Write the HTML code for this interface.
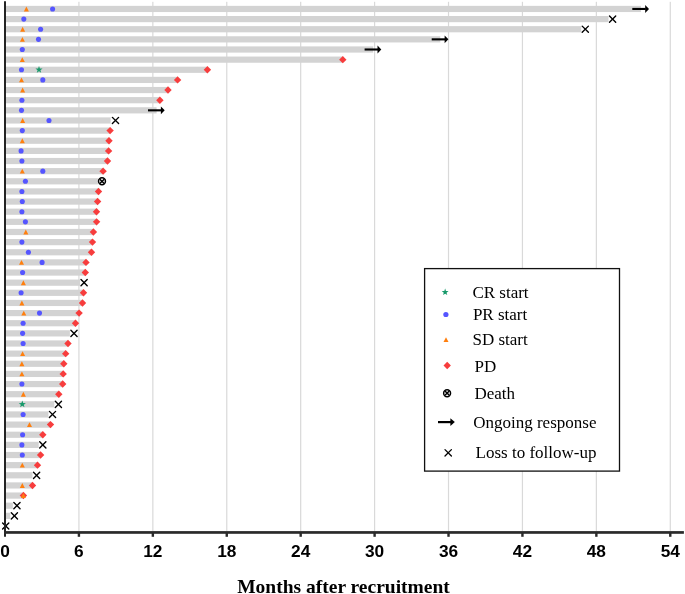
<!DOCTYPE html>
<html><head><meta charset="utf-8"><style>
html,body{margin:0;padding:0;background:#fff;}
body{width:685px;height:594px;overflow:hidden;position:relative;}
svg{position:absolute;left:0;top:0;display:block;will-change:transform;}
.tk text{font-family:"Liberation Sans",sans-serif;font-weight:bold;font-size:17.3px;fill:#000;}
.lg text{font-family:"Liberation Serif",serif;font-size:17px;fill:#000;}
.tt{font-family:"Liberation Serif",serif;font-weight:bold;font-size:19.5px;fill:#000;}
</style></head><body>
<svg width="685" height="594" viewBox="0 0 685 594">
<rect width="685" height="594" fill="#fff"/>
<g><rect x="78.32" y="1.8" width="1.2" height="529.2" fill="#d9d9d9"/><rect x="152.24" y="1.8" width="1.2" height="529.2" fill="#d9d9d9"/><rect x="226.16" y="1.8" width="1.2" height="529.2" fill="#d9d9d9"/><rect x="300.08" y="1.8" width="1.2" height="529.2" fill="#d9d9d9"/><rect x="374" y="1.8" width="1.2" height="529.2" fill="#d9d9d9"/><rect x="447.92" y="1.8" width="1.2" height="529.2" fill="#d9d9d9"/><rect x="521.84" y="1.8" width="1.2" height="529.2" fill="#d9d9d9"/><rect x="595.76" y="1.8" width="1.2" height="529.2" fill="#d9d9d9"/><rect x="669.68" y="1.8" width="1.2" height="529.2" fill="#d9d9d9"/></g>
<g><rect x="5" y="5.85" width="635.9" height="6.2" fill="#d3d3d3"/><rect x="5" y="15.99" width="603.5" height="6.2" fill="#d3d3d3"/><rect x="5" y="26.13" width="576.2" height="6.2" fill="#d3d3d3"/><rect x="5" y="36.26" width="435.3" height="6.2" fill="#d3d3d3"/><rect x="5" y="46.4" width="368.2" height="6.2" fill="#d3d3d3"/><rect x="5" y="56.54" width="337.8" height="6.2" fill="#d3d3d3"/><rect x="5" y="66.68" width="202.4" height="6.2" fill="#d3d3d3"/><rect x="5" y="76.82" width="172.6" height="6.2" fill="#d3d3d3"/><rect x="5" y="86.95" width="163" height="6.2" fill="#d3d3d3"/><rect x="5" y="97.09" width="154.9" height="6.2" fill="#d3d3d3"/><rect x="5" y="107.23" width="151.6" height="6.2" fill="#d3d3d3"/><rect x="5" y="117.37" width="105.6" height="6.2" fill="#d3d3d3"/><rect x="5" y="127.51" width="105.1" height="6.2" fill="#d3d3d3"/><rect x="5" y="137.64" width="104" height="6.2" fill="#d3d3d3"/><rect x="5" y="147.78" width="103.6" height="6.2" fill="#d3d3d3"/><rect x="5" y="157.92" width="102.5" height="6.2" fill="#d3d3d3"/><rect x="5" y="168.06" width="98.1" height="6.2" fill="#d3d3d3"/><rect x="5" y="178.2" width="92.9" height="6.2" fill="#d3d3d3"/><rect x="5" y="188.33" width="93.5" height="6.2" fill="#d3d3d3"/><rect x="5" y="198.47" width="92.6" height="6.2" fill="#d3d3d3"/><rect x="5" y="208.61" width="91.5" height="6.2" fill="#d3d3d3"/><rect x="5" y="218.75" width="91.6" height="6.2" fill="#d3d3d3"/><rect x="5" y="228.89" width="88.4" height="6.2" fill="#d3d3d3"/><rect x="5" y="239.02" width="87.5" height="6.2" fill="#d3d3d3"/><rect x="5" y="249.16" width="86.5" height="6.2" fill="#d3d3d3"/><rect x="5" y="259.3" width="81" height="6.2" fill="#d3d3d3"/><rect x="5" y="269.44" width="80.3" height="6.2" fill="#d3d3d3"/><rect x="5" y="279.58" width="75" height="6.2" fill="#d3d3d3"/><rect x="5" y="289.71" width="78.5" height="6.2" fill="#d3d3d3"/><rect x="5" y="299.85" width="77.5" height="6.2" fill="#d3d3d3"/><rect x="5" y="309.99" width="74.1" height="6.2" fill="#d3d3d3"/><rect x="5" y="320.13" width="70.5" height="6.2" fill="#d3d3d3"/><rect x="5" y="330.27" width="64.9" height="6.2" fill="#d3d3d3"/><rect x="5" y="340.4" width="63" height="6.2" fill="#d3d3d3"/><rect x="5" y="350.54" width="60.7" height="6.2" fill="#d3d3d3"/><rect x="5" y="360.68" width="58.8" height="6.2" fill="#d3d3d3"/><rect x="5" y="370.82" width="58.2" height="6.2" fill="#d3d3d3"/><rect x="5" y="380.96" width="57.7" height="6.2" fill="#d3d3d3"/><rect x="5" y="391.09" width="53.8" height="6.2" fill="#d3d3d3"/><rect x="5" y="401.23" width="49.3" height="6.2" fill="#d3d3d3"/><rect x="5" y="411.37" width="43.4" height="6.2" fill="#d3d3d3"/><rect x="5" y="421.51" width="45.5" height="6.2" fill="#d3d3d3"/><rect x="5" y="431.65" width="37.8" height="6.2" fill="#d3d3d3"/><rect x="5" y="441.78" width="33.7" height="6.2" fill="#d3d3d3"/><rect x="5" y="451.92" width="35.6" height="6.2" fill="#d3d3d3"/><rect x="5" y="462.06" width="32.5" height="6.2" fill="#d3d3d3"/><rect x="5" y="472.2" width="27.5" height="6.2" fill="#d3d3d3"/><rect x="5" y="482.34" width="27.5" height="6.2" fill="#d3d3d3"/><rect x="5" y="492.47" width="18.4" height="6.2" fill="#d3d3d3"/><rect x="5" y="502.61" width="7.85" height="6.2" fill="#d3d3d3"/><rect x="5" y="512.75" width="5.3" height="6.2" fill="#d3d3d3"/></g>
<g><polygon points="342.8,55.94 346.5,59.64 342.8,63.34 339.1,59.64" fill="#f73d3d"/><polygon points="207.4,66.08 211.1,69.78 207.4,73.48 203.7,69.78" fill="#f73d3d"/><polygon points="177.6,76.22 181.3,79.92 177.6,83.62 173.9,79.92" fill="#f73d3d"/><polygon points="168,86.35 171.7,90.05 168,93.75 164.3,90.05" fill="#f73d3d"/><polygon points="159.9,96.49 163.6,100.19 159.9,103.89 156.2,100.19" fill="#f73d3d"/><polygon points="110.1,126.91 113.8,130.61 110.1,134.31 106.4,130.61" fill="#f73d3d"/><polygon points="109,137.04 112.7,140.74 109,144.44 105.3,140.74" fill="#f73d3d"/><polygon points="108.6,147.18 112.3,150.88 108.6,154.58 104.9,150.88" fill="#f73d3d"/><polygon points="107.5,157.32 111.2,161.02 107.5,164.72 103.8,161.02" fill="#f73d3d"/><polygon points="103.1,167.46 106.8,171.16 103.1,174.86 99.4,171.16" fill="#f73d3d"/><polygon points="98.5,187.73 102.2,191.43 98.5,195.13 94.8,191.43" fill="#f73d3d"/><polygon points="97.6,197.87 101.3,201.57 97.6,205.27 93.9,201.57" fill="#f73d3d"/><polygon points="96.5,208.01 100.2,211.71 96.5,215.41 92.8,211.71" fill="#f73d3d"/><polygon points="96.6,218.15 100.3,221.85 96.6,225.55 92.9,221.85" fill="#f73d3d"/><polygon points="93.4,228.29 97.1,231.99 93.4,235.69 89.7,231.99" fill="#f73d3d"/><polygon points="92.5,238.42 96.2,242.12 92.5,245.82 88.8,242.12" fill="#f73d3d"/><polygon points="91.5,248.56 95.2,252.26 91.5,255.96 87.8,252.26" fill="#f73d3d"/><polygon points="86,258.7 89.7,262.4 86,266.1 82.3,262.4" fill="#f73d3d"/><polygon points="85.3,268.84 89,272.54 85.3,276.24 81.6,272.54" fill="#f73d3d"/><polygon points="83.5,289.11 87.2,292.81 83.5,296.51 79.8,292.81" fill="#f73d3d"/><polygon points="82.5,299.25 86.2,302.95 82.5,306.65 78.8,302.95" fill="#f73d3d"/><polygon points="79.1,309.39 82.8,313.09 79.1,316.79 75.4,313.09" fill="#f73d3d"/><polygon points="75.5,319.53 79.2,323.23 75.5,326.93 71.8,323.23" fill="#f73d3d"/><polygon points="68,339.8 71.7,343.5 68,347.2 64.3,343.5" fill="#f73d3d"/><polygon points="65.7,349.94 69.4,353.64 65.7,357.34 62,353.64" fill="#f73d3d"/><polygon points="63.8,360.08 67.5,363.78 63.8,367.48 60.1,363.78" fill="#f73d3d"/><polygon points="63.2,370.22 66.9,373.92 63.2,377.62 59.5,373.92" fill="#f73d3d"/><polygon points="62.7,380.36 66.4,384.06 62.7,387.76 59,384.06" fill="#f73d3d"/><polygon points="58.8,390.49 62.5,394.19 58.8,397.89 55.1,394.19" fill="#f73d3d"/><polygon points="50.5,420.91 54.2,424.61 50.5,428.31 46.8,424.61" fill="#f73d3d"/><polygon points="42.8,431.05 46.5,434.75 42.8,438.45 39.1,434.75" fill="#f73d3d"/><polygon points="40.6,451.32 44.3,455.02 40.6,458.72 36.9,455.02" fill="#f73d3d"/><polygon points="37.5,461.46 41.2,465.16 37.5,468.86 33.8,465.16" fill="#f73d3d"/><polygon points="32.5,481.74 36.2,485.44 32.5,489.14 28.8,485.44" fill="#f73d3d"/><polygon points="23.4,491.87 27.1,495.57 23.4,499.27 19.7,495.57" fill="#f73d3d"/></g>
<g><polygon points="26.4,6.5 28.9,11.4 23.9,11.4" fill="#ff7f0e"/><circle cx="52.6" cy="8.95" r="2.55" fill="#5555ff"/><circle cx="23.8" cy="19.09" r="2.55" fill="#5555ff"/><polygon points="22.6,26.78 25.1,31.68 20.1,31.68" fill="#ff7f0e"/><circle cx="40.6" cy="29.23" r="2.55" fill="#5555ff"/><polygon points="22.4,36.91 24.9,41.81 19.9,41.81" fill="#ff7f0e"/><circle cx="38.5" cy="39.36" r="2.55" fill="#5555ff"/><circle cx="22.3" cy="49.5" r="2.55" fill="#5555ff"/><polygon points="22.3,57.19 24.8,62.09 19.8,62.09" fill="#ff7f0e"/><circle cx="21.5" cy="69.78" r="2.55" fill="#5555ff"/><polygon points="39,66.03 39.88,68.56 42.57,68.62 40.43,70.24 41.2,72.81 39,71.28 36.8,72.81 37.57,70.24 35.43,68.62 38.12,68.56" fill="#17996a"/><polygon points="21.5,77.47 24,82.37 19,82.37" fill="#ff7f0e"/><circle cx="42.8" cy="79.92" r="2.55" fill="#5555ff"/><polygon points="22.6,87.6 25.1,92.5 20.1,92.5" fill="#ff7f0e"/><circle cx="21.9" cy="100.19" r="2.55" fill="#5555ff"/><circle cx="21.5" cy="110.33" r="2.55" fill="#5555ff"/><polygon points="22.6,118.02 25.1,122.92 20.1,122.92" fill="#ff7f0e"/><circle cx="49" cy="120.47" r="2.55" fill="#5555ff"/><circle cx="22.3" cy="130.61" r="2.55" fill="#5555ff"/><polygon points="22.3,138.29 24.8,143.19 19.8,143.19" fill="#ff7f0e"/><circle cx="21.1" cy="150.88" r="2.55" fill="#5555ff"/><circle cx="21.9" cy="161.02" r="2.55" fill="#5555ff"/><polygon points="22.3,168.71 24.8,173.61 19.8,173.61" fill="#ff7f0e"/><circle cx="42.8" cy="171.16" r="2.55" fill="#5555ff"/><circle cx="25.4" cy="181.3" r="2.55" fill="#5555ff"/><circle cx="21.9" cy="191.43" r="2.55" fill="#5555ff"/><circle cx="22.3" cy="201.57" r="2.55" fill="#5555ff"/><circle cx="21.9" cy="211.71" r="2.55" fill="#5555ff"/><circle cx="25.4" cy="221.85" r="2.55" fill="#5555ff"/><polygon points="25.8,229.54 28.3,234.44 23.3,234.44" fill="#ff7f0e"/><circle cx="21.9" cy="242.12" r="2.55" fill="#5555ff"/><circle cx="28.4" cy="252.26" r="2.55" fill="#5555ff"/><polygon points="21.5,259.95 24,264.85 19,264.85" fill="#ff7f0e"/><circle cx="42.1" cy="262.4" r="2.55" fill="#5555ff"/><circle cx="22.6" cy="272.54" r="2.55" fill="#5555ff"/><polygon points="23.4,280.23 25.9,285.13 20.9,285.13" fill="#ff7f0e"/><circle cx="21.1" cy="292.81" r="2.55" fill="#5555ff"/><polygon points="21.9,300.5 24.4,305.4 19.4,305.4" fill="#ff7f0e"/><polygon points="23.8,310.64 26.3,315.54 21.3,315.54" fill="#ff7f0e"/><circle cx="39.5" cy="313.09" r="2.55" fill="#5555ff"/><circle cx="23.1" cy="323.23" r="2.55" fill="#5555ff"/><circle cx="22.6" cy="333.37" r="2.55" fill="#5555ff"/><circle cx="23.1" cy="343.5" r="2.55" fill="#5555ff"/><polygon points="22.6,351.19 25.1,356.09 20.1,356.09" fill="#ff7f0e"/><polygon points="21.9,361.33 24.4,366.23 19.4,366.23" fill="#ff7f0e"/><polygon points="21.9,371.47 24.4,376.37 19.4,376.37" fill="#ff7f0e"/><circle cx="21.9" cy="384.06" r="2.55" fill="#5555ff"/><polygon points="23.4,391.74 25.9,396.64 20.9,396.64" fill="#ff7f0e"/><polygon points="22.3,400.58 23.18,403.12 25.87,403.17 23.73,404.8 24.5,407.37 22.3,405.83 20.1,407.37 20.87,404.8 18.73,403.17 21.42,403.12" fill="#17996a"/><circle cx="23.1" cy="414.47" r="2.55" fill="#5555ff"/><polygon points="29.5,422.16 32,427.06 27,427.06" fill="#ff7f0e"/><circle cx="22.6" cy="434.75" r="2.55" fill="#5555ff"/><circle cx="21.9" cy="444.88" r="2.55" fill="#5555ff"/><circle cx="22.3" cy="455.02" r="2.55" fill="#5555ff"/><polygon points="22.3,462.71 24.8,467.61 19.8,467.61" fill="#ff7f0e"/><polygon points="22.3,482.99 24.8,487.89 19.8,487.89" fill="#ff7f0e"/><polygon points="23.4,493.12 25.9,498.02 20.9,498.02" fill="#ff7f0e"/></g>
<g><rect x="632.3" y="7.9" width="13.4" height="2.1" fill="#000"/><polygon points="645.2,5 649,8.95 645.2,12.9" fill="#000"/><path d="M609.5,15.99L615.7,22.19" stroke="#000" stroke-width="1.4" stroke-linecap="round" fill="none"/><path d="M609.5,22.19L615.7,15.99" stroke="#000" stroke-width="1.4" stroke-linecap="round" fill="none"/><path d="M582.2,26.13L588.4,32.33" stroke="#000" stroke-width="1.4" stroke-linecap="round" fill="none"/><path d="M582.2,32.33L588.4,26.13" stroke="#000" stroke-width="1.4" stroke-linecap="round" fill="none"/><rect x="431.7" y="38.31" width="13.4" height="2.1" fill="#000"/><polygon points="444.6,35.41 448.4,39.36 444.6,43.31" fill="#000"/><rect x="364.6" y="48.45" width="13.4" height="2.1" fill="#000"/><polygon points="377.5,45.55 381.3,49.5 377.5,53.45" fill="#000"/><rect x="148" y="109.28" width="13.4" height="2.1" fill="#000"/><polygon points="160.9,106.38 164.7,110.33 160.9,114.28" fill="#000"/><path d="M112.4,117.37L118.6,123.57" stroke="#000" stroke-width="1.4" stroke-linecap="round" fill="none"/><path d="M112.4,123.57L118.6,117.37" stroke="#000" stroke-width="1.4" stroke-linecap="round" fill="none"/><circle cx="102" cy="181.3" r="3.45" fill="none" stroke="#000" stroke-width="1.5"/><path d="M99.86,179.16L104.14,183.44" stroke="#000" stroke-width="1.5" fill="none"/><path d="M99.86,183.44L104.14,179.16" stroke="#000" stroke-width="1.5" fill="none"/><path d="M81,279.58L87.2,285.78" stroke="#000" stroke-width="1.4" stroke-linecap="round" fill="none"/><path d="M81,285.78L87.2,279.58" stroke="#000" stroke-width="1.4" stroke-linecap="round" fill="none"/><path d="M70.9,330.27L77.1,336.47" stroke="#000" stroke-width="1.4" stroke-linecap="round" fill="none"/><path d="M70.9,336.47L77.1,330.27" stroke="#000" stroke-width="1.4" stroke-linecap="round" fill="none"/><path d="M55.3,401.23L61.5,407.43" stroke="#000" stroke-width="1.4" stroke-linecap="round" fill="none"/><path d="M55.3,407.43L61.5,401.23" stroke="#000" stroke-width="1.4" stroke-linecap="round" fill="none"/><path d="M49.4,411.37L55.6,417.57" stroke="#000" stroke-width="1.4" stroke-linecap="round" fill="none"/><path d="M49.4,417.57L55.6,411.37" stroke="#000" stroke-width="1.4" stroke-linecap="round" fill="none"/><path d="M39.7,441.78L45.9,447.98" stroke="#000" stroke-width="1.4" stroke-linecap="round" fill="none"/><path d="M39.7,447.98L45.9,441.78" stroke="#000" stroke-width="1.4" stroke-linecap="round" fill="none"/><path d="M33.5,472.2L39.7,478.4" stroke="#000" stroke-width="1.4" stroke-linecap="round" fill="none"/><path d="M33.5,478.4L39.7,472.2" stroke="#000" stroke-width="1.4" stroke-linecap="round" fill="none"/><path d="M13.85,502.61L20.05,508.81" stroke="#000" stroke-width="1.4" stroke-linecap="round" fill="none"/><path d="M13.85,508.81L20.05,502.61" stroke="#000" stroke-width="1.4" stroke-linecap="round" fill="none"/><path d="M11.3,512.75L17.5,518.95" stroke="#000" stroke-width="1.4" stroke-linecap="round" fill="none"/><path d="M11.3,518.95L17.5,512.75" stroke="#000" stroke-width="1.4" stroke-linecap="round" fill="none"/><path d="M2.6,522.89L8.8,529.09" stroke="#000" stroke-width="1.4" stroke-linecap="round" fill="none"/><path d="M2.6,529.09L8.8,522.89" stroke="#000" stroke-width="1.4" stroke-linecap="round" fill="none"/></g>
<g><rect x="4" y="1.25" width="2" height="535.5" fill="#242424"/><rect x="4" y="531.1" width="679.9" height="2.7" fill="#2a2a2a"/><rect x="77.72" y="533" width="2.4" height="3.8" fill="#2a2a2a"/><rect x="151.64" y="533" width="2.4" height="3.8" fill="#2a2a2a"/><rect x="225.56" y="533" width="2.4" height="3.8" fill="#2a2a2a"/><rect x="299.48" y="533" width="2.4" height="3.8" fill="#2a2a2a"/><rect x="373.4" y="533" width="2.4" height="3.8" fill="#2a2a2a"/><rect x="447.32" y="533" width="2.4" height="3.8" fill="#2a2a2a"/><rect x="521.24" y="533" width="2.4" height="3.8" fill="#2a2a2a"/><rect x="595.16" y="533" width="2.4" height="3.8" fill="#2a2a2a"/><rect x="669.08" y="533" width="2.4" height="3.8" fill="#2a2a2a"/></g>
<g class="tk"><text x="5" y="556.8" text-anchor="middle">0</text><text x="78.92" y="556.8" text-anchor="middle">6</text><text x="152.84" y="556.8" text-anchor="middle">12</text><text x="226.76" y="556.8" text-anchor="middle">18</text><text x="300.68" y="556.8" text-anchor="middle">24</text><text x="374.6" y="556.8" text-anchor="middle">30</text><text x="448.52" y="556.8" text-anchor="middle">36</text><text x="522.44" y="556.8" text-anchor="middle">42</text><text x="596.36" y="556.8" text-anchor="middle">48</text><text x="670.28" y="556.8" text-anchor="middle">54</text></g>
<g><rect x="424.6" y="268.6" width="194.9" height="202.5" fill="#fff" stroke="#111" stroke-width="1.3"/><polygon points="445.15,288.6 446,291.04 448.57,291.09 446.52,292.64 447.27,295.11 445.15,293.64 443.03,295.11 443.78,292.64 441.73,291.09 444.3,291.04" fill="#17996a"/><circle cx="445.9" cy="314.5" r="2.6" fill="#5555ff"/><polygon points="446,337.35 448.5,342.05 443.5,342.05" fill="#ff7f0e"/><polygon points="447.2,361.8 450.9,365.5 447.2,369.2 443.5,365.5" fill="#f73d3d"/><circle cx="447.1" cy="393.2" r="3.45" fill="none" stroke="#000" stroke-width="1.5"/><path d="M444.96,391.06L449.24,395.34" stroke="#000" stroke-width="1.5" fill="none"/><path d="M444.96,395.34L449.24,391.06" stroke="#000" stroke-width="1.5" fill="none"/><rect x="438" y="421" width="13" height="2.2" fill="#000"/><polygon points="450.4,418.3 454.8,422.1 450.4,425.9" fill="#000"/><path d="M445,449.6L451.4,456" stroke="#000" stroke-width="1.3" stroke-linecap="round" fill="none"/><path d="M445,456L451.4,449.6" stroke="#000" stroke-width="1.3" stroke-linecap="round" fill="none"/></g>
<g class="lg"><text x="472.4" y="297.8">CR start</text><text x="472.9" y="320.1">PR start</text><text x="472.5" y="345.3">SD start</text><text x="474.5" y="371.6">PD</text><text x="474.5" y="398.6">Death</text><text x="473.2" y="428.1">Ongoing response</text><text x="475.6" y="458.3">Loss to follow-up</text></g>
<text class="tt" x="237.2" y="592.5">Months after recruitment</text>
</svg>
</body></html>
